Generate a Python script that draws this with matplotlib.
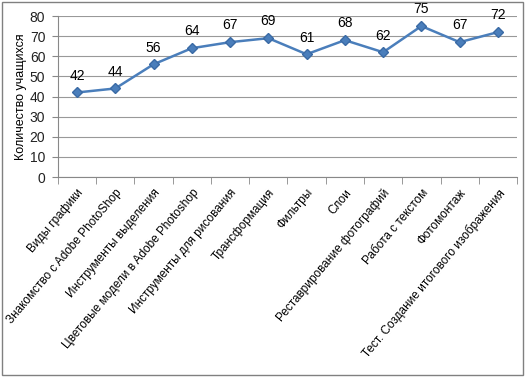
import matplotlib.pyplot as plt
from matplotlib.patches import Rectangle

topics = ['Виды графики', 'Знакомство с Adobe PhotoShop', 'Инструменты выделения',
          'Цветовые модели в Adobe Photoshop', 'Инструменты для рисования',
          'Трансформация', 'Фильтры', 'Слои', 'Реставрирование фотографий',
          'Работа с текстом', 'Фотомонтаж', 'Тест. Создание итогового изображения']
students = [42, 44, 56, 64, 67, 69, 61, 68, 62, 75, 67, 72]

plt.rcParams['font.family'] = ['Liberation Sans', 'DejaVu Sans']

fig = plt.figure(figsize=(5.26, 3.77), dpi=100)
ax = fig.add_axes([0.110, 0.5305, 0.873, 0.427])

x = list(range(len(topics)))
ax.plot(x, students, color='#4a7ebb', lw=1.8, marker='D', ms=5,
        markerfacecolor='#4a7ebb', markeredgecolor='#3a6aa5')
for xi, v in zip(x, students):
    ax.annotate(str(v), (xi, v), textcoords='offset points', xytext=(0, 7),
                ha='center', va='bottom', fontsize=10)

ax.set_ylim(0, 80)
ax.set_yticks(range(0, 81, 10))
ax.set_xlim(-0.5, len(topics) - 0.5)
ax.yaxis.grid(True, color='#999999', lw=0.8)
ax.set_axisbelow(True)

ax.set_xticks(x)
ax.set_xticklabels(topics, rotation=50, ha='right', rotation_mode='anchor', fontsize=8.5)
ax.tick_params(axis='x', length=0, pad=7)
ax.set_xticks([i - 0.5 for i in range(len(topics) + 1)], minor=True)
ax.tick_params(axis='x', which='minor', length=5, color='#888888')
ax.tick_params(axis='y', length=4, pad=5, labelsize=10, color='#888888', labelcolor='#222222')

for s in ['top', 'right']:
    ax.spines[s].set_visible(False)
ax.spines['left'].set_color('#888888')
ax.spines['bottom'].set_color('#888888')
ax.set_ylabel('Количество учащихся', fontsize=9, labelpad=2)

fig.patches.append(Rectangle((0.004, 0.005), 0.99, 0.99, transform=fig.transFigure,
                             fill=False, edgecolor='#808080', lw=1))

fig.savefig('out.png', dpi=100)
